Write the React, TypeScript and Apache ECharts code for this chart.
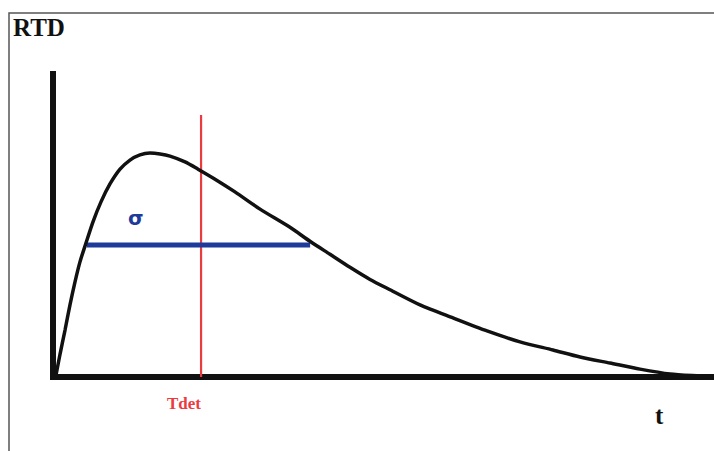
import React, { useEffect, useRef } from "react";
import * as echarts from "echarts";

// RTD curve: time (arbitrary units, 0..10) and normalised response (0..1)
const tValues = [0.04, 0.106, 0.182, 0.257, 0.333, 0.408, 0.499, 0.605, 0.726, 0.862, 1.014, 1.165, 1.316, 1.467, 1.619, 1.77, 1.997, 2.194, 2.451, 2.753, 3.132, 3.585, 3.888, 4.191, 4.493, 4.796, 5.098, 5.552, 6.051, 6.566, 7.065, 7.564, 7.973, 8.427, 8.88, 9.334, 9.788, 10];
const rtdValues = [0, 0.075, 0.155, 0.238, 0.314, 0.38, 0.442, 0.512, 0.578, 0.637, 0.686, 0.716, 0.733, 0.739, 0.736, 0.729, 0.71, 0.686, 0.653, 0.611, 0.554, 0.494, 0.448, 0.405, 0.362, 0.322, 0.288, 0.238, 0.195, 0.152, 0.116, 0.089, 0.066, 0.046, 0.026, 0.01, 0.003, 0];

// Tdet vertical marker
const tdetX = 2.24;
const tdetTop = 0.865;

// sigma width bar
const sigmaLevel = 0.436;
const sigmaStart = 0.51;
const sigmaEnd = 3.89;

const axisLabels = { y: "RTD", x: "t", tdet: "Tdet", sigma: "σ" };

export default function App() {
  const ref = useRef<HTMLDivElement>(null);
  useEffect(() => {
    if (!ref.current) return;
    const chart = echarts.init(ref.current, null, { renderer: "svg" });
    const curve = tValues.map((t, i) => [t, rtdValues[i]]);
    chart.setOption({
      animation: false,
      backgroundColor: "#ffffff",
      grid: { left: 53, right: 0, top: 74, bottom: 74 },
      xAxis: {
        type: "value",
        min: 0,
        max: 10,
        axisLine: { show: true, onZero: false, lineStyle: { color: "#111", width: 6, cap: "square" } },
        axisTick: { show: false },
        axisLabel: { show: false },
        splitLine: { show: false },
      },
      yAxis: {
        type: "value",
        min: 0,
        max: 1,
        axisLine: { show: true, lineStyle: { color: "#111", width: 6, cap: "square" } },
        axisTick: { show: false },
        axisLabel: { show: false },
        splitLine: { show: false },
      },
      series: [
        {
          type: "line",
          data: [[tdetX, 0], [tdetX, tdetTop]],
          symbol: "none",
          lineStyle: { color: "#ea3b3f", width: 2.2 },
          z: 2,
        },
        {
          type: "line",
          data: [[sigmaStart, sigmaLevel], [sigmaEnd, sigmaLevel]],
          symbol: "none",
          lineStyle: { color: "#1e3a9a", width: 5 },
          z: 3,
        },
        {
          type: "line",
          data: curve,
          smooth: 0.25,
          symbol: "none",
          lineStyle: { color: "#111", width: 3.5 },
          z: 4,
        },
      ],
      graphic: [
        {
          type: "polyline",
          shape: { points: [[9, 460], [9, 13], [720, 13]] },
          style: { stroke: "#555", lineWidth: 1.5, fill: "none" },
          silent: true,
        },
        {
          type: "text",
          left: 13,
          top: 15,
          style: { text: axisLabels.y, font: "bold 25px 'Liberation Serif', serif", fill: "#111" },
        },
        {
          type: "text",
          left: 167,
          top: 395,
          style: { text: axisLabels.tdet, font: "bold 17px 'Liberation Serif', serif", fill: "#ea3b3f" },
        },
        {
          type: "text",
          left: 655,
          top: 403,
          style: { text: axisLabels.x, font: "bold 25px 'Liberation Serif', serif", fill: "#111" },
        },
        {
          type: "text",
          left: 128,
          top: 208,
          style: { text: axisLabels.sigma, font: "bold 20px 'DejaVu Sans', sans-serif", fill: "#1e3a9a" },
        },
      ],
    });
    return () => chart.dispose();
  }, []);
  return (
    <div
      ref={ref}
      style={{ position: "fixed", left: 0, top: 0, width: 714, height: 451 }}
    />
  );
}
